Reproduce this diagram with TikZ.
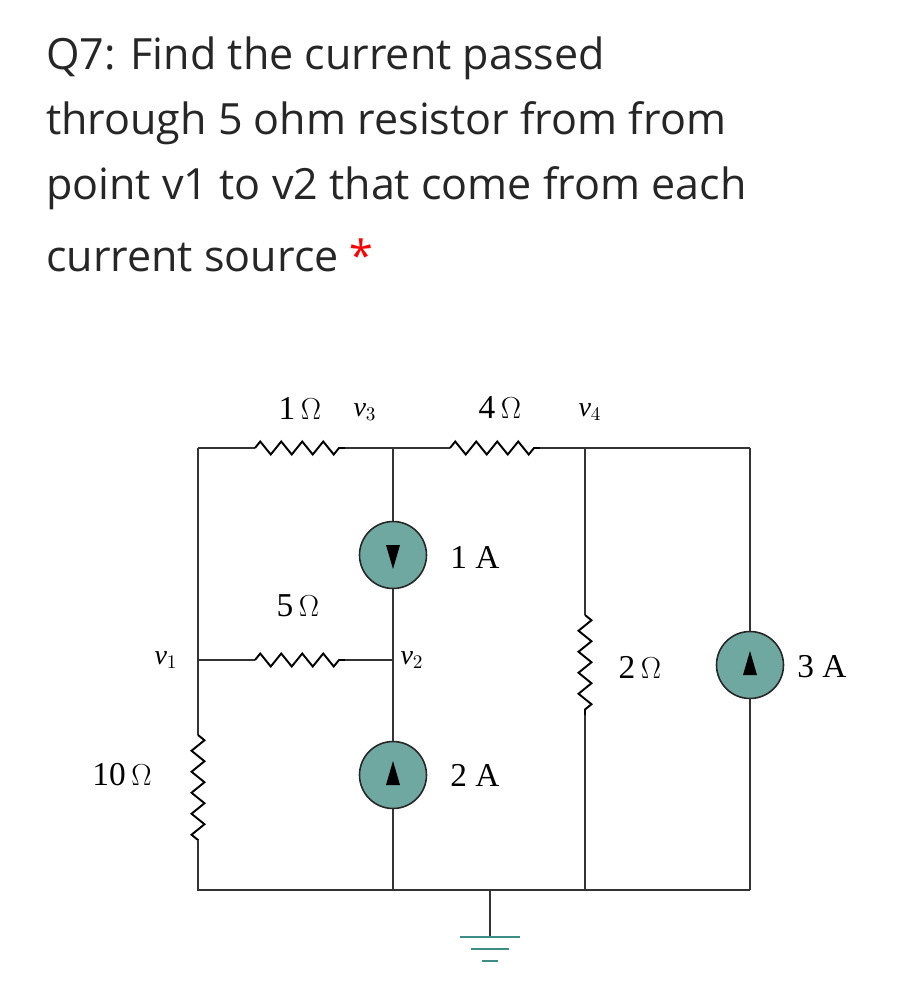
\documentclass[tikz,border=0pt]{standalone}
\usepackage{fontspec}
\setmainfont{Liberation Serif}
\newfontfamily\qfont{Open Sans}
\usetikzlibrary{decorations.pathmorphing,calc}
\definecolor{srcteal}{HTML}{6FA8A0}
\definecolor{gndteal}{HTML}{3E8C86}
\tikzset{
 wire/.style={line width=1.3pt, black!80},
 res/.style={line width=1.1pt, decorate, decoration={zigzag, amplitude=1.3mm, segment length=4.2mm}},
 src/.style={circle, draw=black!85, line width=0.9pt, fill=srcteal, minimum size=13.4mm, inner sep=0pt},
 lab/.style={font=\fontsize{19}{19}\selectfont},
 vlab/.style={font=\fontsize{16}{16}\selectfont},
 qtext/.style={anchor=west, font=\qfont\fontsize{24.5}{24.5}\selectfont, text=black!85},
 tri/.style={fill=black}
}
\begin{document}
\begin{tikzpicture}[x=0.02cm,y=-0.02cm]
\useasboundingbox (0,0) rectangle (915,1005);
\node[qtext] (t1) at (40,58) {Q7: Find the current passed};
\node[qtext] (t2) at (40,123) {through 5 ohm resistor from from};
\node[qtext] (t3) at (40,188) {point v1 to v2 that come from each};
\node[qtext] (t4) at (40,255) {current source \textcolor{red}{*}};
\coordinate (TL) at (198,448); \coordinate (TM) at (393,448); \coordinate (T3) at (585,448); \coordinate (TR) at (750,448);
\coordinate (BL) at (198,890); \coordinate (BM) at (393,890); \coordinate (B3) at (585,890); \coordinate (BR) at (750,890);
\coordinate (G) at (490,890); \coordinate (Gb) at (490,937);
\coordinate (V1) at (198,660); \coordinate (V2) at (393,660);
\node[src] (s1) at (393,555) {};
\node[src] (s2) at (393,775) {};
\node[src] (s3) at (750,665) {};
\draw[wire] (TL) -- (255,448);
\draw[res] (255,448) -- (345,448);
\draw[wire] (345,448) -- (TM) -- (450,448);
\draw[res] (450,448) -- (540,448);
\draw[wire] (540,448) -- (T3) -- (TR);
\draw[wire] (TL) -- (V1) -- (198,735);
\draw[res] (198,735) -- (198,840);
\draw[wire] (198,840) -- (BL) -- (BR);
\draw[wire] (V1) -- (255,660);
\draw[res] (255,660) -- (345,660);
\draw[wire] (345,660) -- (V2);
\draw[wire] (TM) -- (s1.north); \draw[wire] (s1.south) -- (s2.north); \draw[wire] (s2.south) -- (BM);
\draw[wire] (T3) -- (585,615); \draw[res] (585,615) -- (585,715); \draw[wire] (585,715) -- (B3);
\draw[wire] (TR) -- (s3.north); \draw[wire] (s3.south) -- (BR);
\draw[wire] (G) -- (Gb);
\draw[gndteal, line width=1.2pt] (460,937) -- (520,937) (471,949) -- (509,949) (482,961) -- (498,961);
\fill[tri] ($(s1)+(-7,-10)$) -- ($(s1)+(7,-10)$) -- ($(s1)+(0,14)$) -- cycle;
\fill[tri] ($(s2)+(-7,10)$) -- ($(s2)+(7,10)$) -- ($(s2)+(0,-14)$) -- cycle;
\fill[tri] ($(s3)+(-7,10)$) -- ($(s3)+(7,10)$) -- ($(s3)+(0,-14)$) -- cycle;
\node[lab] (l1) at (300,408) {1\,$\Omega$};
\node[lab] (l4) at (500,408) {4\,$\Omega$};
\node[lab] (l5) at (298,606) {5\,$\Omega$};
\node[lab] (l10) at (122,775) {10\,$\Omega$};
\node[lab] (l2) at (640,667) {2\,$\Omega$};
\node[lab] (a1) at (475,557) {1 A};
\node[lab] (a2) at (475,775) {2 A};
\node[lab] (a3) at (822,667) {3 A};
\node[vlab] (v3) at (365,412) {\textit{v}$_3$};
\node[vlab] (v4) at (590,412) {\textit{v}$_4$};
\node[vlab] (v1) at (166,660) {\textit{v}$_1$};
\node[vlab] (v2) at (412,660) {\textit{v}$_2$};
\end{tikzpicture}
\end{document}
